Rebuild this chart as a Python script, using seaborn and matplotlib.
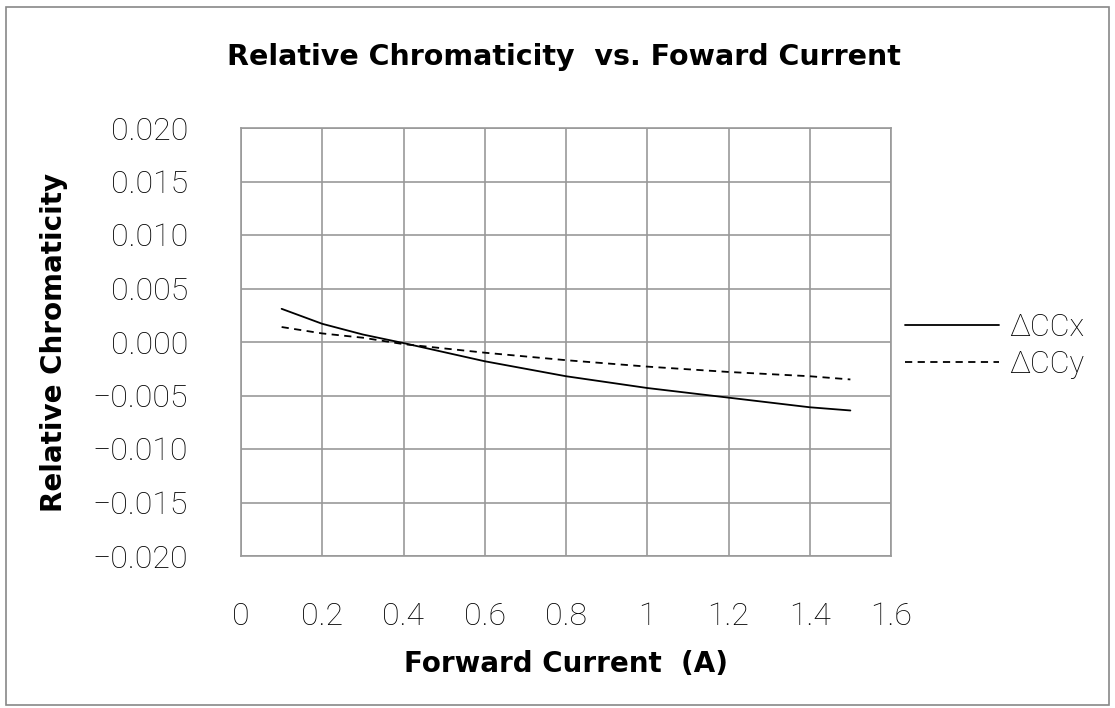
import matplotlib
matplotlib.use("Agg")
import matplotlib.pyplot as plt
import seaborn as sns
import pandas as pd
from matplotlib.patches import Rectangle
from matplotlib.lines import Line2D

current = [0.1, 0.2, 0.3, 0.4, 0.6, 0.8, 1.0, 1.2, 1.4, 1.5]
dccx = [0.0031, 0.0017, 0.0007, -0.0001, -0.0018, -0.0032, -0.0043, -0.0052, -0.0061, -0.0064]
dccy = [0.0014, 0.0008, 0.0004, -0.0002, -0.0010, -0.0017, -0.0023, -0.0028, -0.0032, -0.0035]
series_names = ["\u0394CCx", "\u0394CCy"]
xticks = [0, 0.2, 0.4, 0.6, 0.8, 1.0, 1.2, 1.4, 1.6]
xticklabels = ["0", "0.2", "0.4", "0.6", "0.8", "1", "1.2", "1.4", "1.6"]
yticks = [0.020, 0.015, 0.010, 0.005, 0.0, -0.005, -0.010, -0.015, -0.020]

df = pd.DataFrame({
    "x": current * 2,
    "y": dccx + dccy,
    "s": [series_names[0]] * len(current) + [series_names[1]] * len(current),
})

sns.set_style("white")
plt.rcParams["font.family"] = ["Roboto", "Liberation Sans", "DejaVu Sans"]
BOLD = ["DejaVu Sans"]
DASH = (4, 3)
TICKCOL = "#000000"

fig = plt.figure(figsize=(11.15, 7.08), dpi=100)
ax = fig.add_axes([241 / 1115, 1 - 556 / 708, (891 - 241) / 1115, (556 - 128) / 708])

sns.lineplot(data=df, x="x", y="y", style="s", hue="s",
             palette={series_names[0]: "black", series_names[1]: "black"},
             dashes={series_names[0]: "", series_names[1]: DASH},
             linewidth=1.3, ax=ax, legend=False)

ax.set_xlim(0, 1.6)
ax.set_ylim(-0.020, 0.020)
ax.set_xticks(xticks)
ax.set_xticklabels(xticklabels, fontweight="light")
ax.set_yticks(yticks)
ax.set_yticklabels([f"{v:.3f}".replace("-", "\u2212") for v in yticks],
                   fontweight="light")
ax.grid(True, color="#999999", linewidth=1.2)
for sp in ax.spines.values():
    sp.set_color("#999999")
    sp.set_linewidth(1.2)
ax.tick_params(axis="both", length=0, labelsize=23, colors=TICKCOL)
ax.tick_params(axis="x", pad=33)
ax.tick_params(axis="y", pad=38)
ax.set_xlabel("Forward Current  (A)", fontsize=20, fontweight="bold",
              family=BOLD, labelpad=14, color="black")
ax.set_ylabel("Relative Chromaticity", fontsize=20, fontweight="bold",
              family=BOLD, labelpad=18, color="black")
fig.text(564 / 1115, 1 - 57 / 708, "Relative Chromaticity  vs. Foward Current",
         fontsize=20.5, fontweight="bold", family=BOLD, ha="center",
         va="center", color="black")

handles = [Line2D([], [], color="black", lw=1.3),
           Line2D([], [], color="black", lw=1.3, dashes=DASH)]
leg = fig.legend(handles, series_names, loc="center left",
                 bbox_to_anchor=(877 / 1115, 1 - 346 / 708), frameon=False,
                 prop={"size": 22, "weight": "light"},
                 handlelength=3.1, handletextpad=0.33, labelspacing=0.27)
for t in leg.get_texts():
    t.set_color(TICKCOL)

fig.patches.append(Rectangle((6 / 1115, 3 / 708), 1103 / 1115, 698 / 708,
                             transform=fig.transFigure, fill=False,
                             edgecolor="#888888", linewidth=1.2))
fig.savefig("out.png", dpi=100, facecolor="white")
